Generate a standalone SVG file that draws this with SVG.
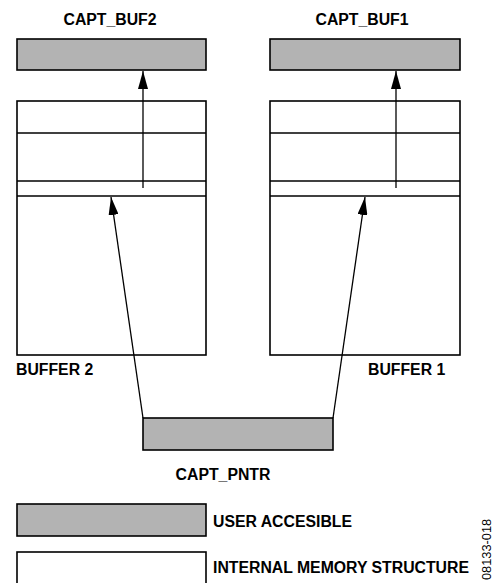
<svg xmlns="http://www.w3.org/2000/svg" width="494" height="583" viewBox="0 0 494 583">
<style>
.ua{fill:#b3b3b3;stroke:#000;stroke-width:1.6}
.im{fill:#fff;stroke:#000;stroke-width:1.6}
.ln{stroke:#000;stroke-width:1.4;fill:none}
.lbl{font-family:"Liberation Sans",Arial,sans-serif;font-weight:bold;font-size:15.8px;fill:#000}
.arr{stroke:#000;stroke-width:1.3;fill:none;marker-end:url(#ah)}
</style>
<defs>
<marker id="ah" markerUnits="userSpaceOnUse" markerWidth="18" markerHeight="10" viewBox="0 0 18 10" refX="18" refY="5" orient="auto">
<path d="M0,0 L18,5 L0,10 Z" fill="#000"/>
</marker>
</defs>
<rect width="494" height="583" fill="#fff"/>
<g id="capt_buf2">
<rect class="ua" x="17" y="39" width="189" height="31"/>
<text class="lbl" x="110" y="25" text-anchor="middle">CAPT_BUF2</text>
</g>
<g id="capt_buf1">
<rect class="ua" x="270" y="39" width="190" height="31"/>
<text class="lbl" x="362" y="25" text-anchor="middle">CAPT_BUF1</text>
</g>
<g id="buffer2">
<rect class="im" x="17" y="101" width="189" height="254"/>
<line class="ln" x1="17" y1="133" x2="206" y2="133"/>
<line class="ln" x1="17" y1="181" x2="206" y2="181"/>
<line class="ln" x1="17" y1="196" x2="206" y2="196"/>
<text class="lbl" x="16" y="375">BUFFER 2</text>
</g>
<g id="buffer1">
<rect class="im" x="270" y="101" width="190" height="254"/>
<line class="ln" x1="270" y1="133" x2="460" y2="133"/>
<line class="ln" x1="270" y1="181" x2="460" y2="181"/>
<line class="ln" x1="270" y1="196" x2="460" y2="196"/>
<text class="lbl" x="368" y="375">BUFFER 1</text>
</g>
<g id="capt_pntr">
<rect class="ua" x="143" y="418" width="190" height="32"/>
<text class="lbl" x="223" y="480" text-anchor="middle">CAPT_PNTR</text>
</g>
<g id="connectors">
<line class="arr" x1="143" y1="188" x2="143" y2="71"/>
<line class="arr" x1="396" y1="188" x2="396" y2="71"/>
<line class="arr" x1="143" y1="418" x2="111" y2="197"/>
<line class="arr" x1="333" y1="418" x2="365" y2="197"/>
</g>
<g id="legend_user">
<rect class="ua" x="17" y="504" width="189" height="32"/>
<text class="lbl" x="213" y="527">USER ACCESIBLE</text>
</g>
<g id="legend_internal">
<rect class="im" x="17" y="552" width="189" height="32"/>
<text class="lbl" x="213" y="573">INTERNAL MEMORY STRUCTURE</text>
</g>
<text x="491" y="580" transform="rotate(-90 491 580)" font-family="'Liberation Sans',Arial,sans-serif" font-size="12.8" fill="#000">08133-018</text>
</svg>
